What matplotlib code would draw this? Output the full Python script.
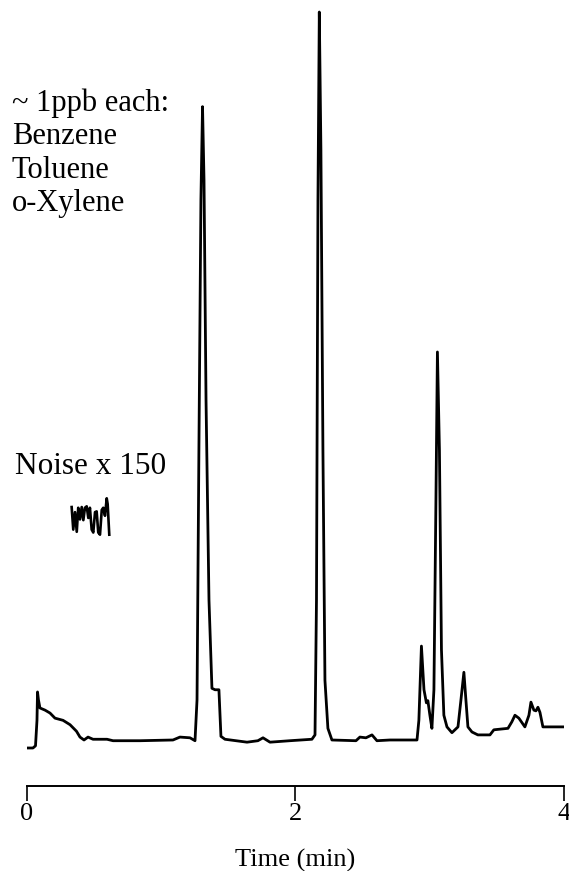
import matplotlib
matplotlib.use('Agg')
import matplotlib.pyplot as plt

plt.rcParams['font.family'] = ['Liberation Serif', 'DejaVu Serif']

# chromatogram trace: time (min) vs relative detector response (toluene = 100)
time_min = [0.000, 0.048, 0.067, 0.078, 0.082, 0.089, 0.100, 0.138, 0.175, 0.212,
            0.272, 0.324, 0.372, 0.398, 0.428, 0.458, 0.495, 0.599, 0.644, 0.845,
            1.090, 1.142, 1.217, 1.254, 1.269, 1.283, 1.298, 1.310, 1.321, 1.336,
            1.358, 1.380, 1.403, 1.432, 1.447, 1.477, 1.641, 1.722, 1.760, 1.812,
            1.960, 2.124, 2.147, 2.158, 2.169, 2.179, 2.191, 2.206, 2.221, 2.243,
            2.273, 2.452, 2.481, 2.526, 2.571, 2.608, 2.705, 2.906, 2.920, 2.939,
            2.958, 2.976, 2.987, 3.002, 3.017, 3.032, 3.047, 3.058, 3.073, 3.088,
            3.106, 3.129, 3.166, 3.211, 3.233, 3.255, 3.270, 3.285, 3.315, 3.359,
            3.449, 3.478, 3.583, 3.612, 3.635, 3.664, 3.709, 3.739, 3.754, 3.776,
            3.791, 3.806, 3.821, 3.843, 3.992]
response = [-1.1, -1.1, -0.8, 2.7, 6.6, 5.5, 4.4, 4.1, 3.7, 3.0,
            2.7, 2.1, 1.2, 0.4, 0.0, 0.4, 0.1, 0.1, -0.1, -0.1,
            0.0, 0.4, 0.3, -0.1, 5.5, 39.8, 74.2, 87.0, 76.9, 46.7,
            19.2, 7.1, 6.9, 6.9, 0.5, 0.1, -0.3, -0.1, 0.3, -0.3,
            -0.1, 0.1, 0.7, 19.2, 74.2, 100.0, 81.0, 39.8, 8.2, 1.6,
            0.0, -0.1, 0.4, 0.3, 0.7, -0.1, 0.0, 0.0, 2.7, 12.9,
            6.9, 5.1, 5.4, 3.4, 1.6, 6.9, 33.0, 53.3, 39.8, 12.4,
            3.4, 1.8, 1.0, 1.8, 5.5, 9.3, 5.5, 1.8, 1.1, 0.7,
            0.7, 1.4, 1.6, 2.5, 3.4, 3.0, 1.8, 3.4, 5.2, 4.1,
            4.0, 4.5, 3.8, 1.8, 1.8]

# baseline noise segment, amplified x150
noise_t = [0.336, 0.348, 0.361, 0.374, 0.385, 0.398, 0.411, 0.423, 0.435, 0.448,
           0.460, 0.472, 0.485, 0.497, 0.510, 0.522, 0.534, 0.547, 0.560, 0.571,
           0.584, 0.597, 0.604, 0.616]
noise_s = [32.0, 28.9, 31.3, 28.6, 31.9, 30.3, 32.0, 30.2, 31.9, 32.1,
           30.5, 31.9, 28.9, 28.5, 31.3, 31.4, 28.5, 28.2, 31.6, 31.9,
           30.8, 33.2, 32.4, 28.2]

xticks = [0, 2, 4]

W, H = 569, 871
fig = plt.figure(figsize=(W / 100, H / 100), dpi=100)
ax = fig.add_axes([26.5 / W, (H - 786) / H, 537.5 / W, 786 / H])

ax.plot(time_min, response, color='black', lw=2.0, solid_joinstyle='round')
ax.plot(noise_t, noise_s, color='black', lw=1.9, solid_joinstyle='round')

ax.set_xlim(0, 4)
ax.set_ylim(-6.32, 101.65)
for side in ['top', 'right', 'left']:
    ax.spines[side].set_visible(False)
ax.spines['bottom'].set_linewidth(1.4)
ax.set_yticks([])
ax.set_xticks(xticks)
ax.set_xticklabels([str(t) for t in xticks])
ax.tick_params(axis='x', direction='out', length=11, width=1.2, pad=1.5, labelsize=19)

fig.text(12 / W, 1 - 88 / H, '~ 1ppb each:\nBenzene\nToluene\no-Xylene',
         fontsize=22, va='top', ha='left', linespacing=1.21)
fig.text(15 / W, 1 - 466 / H, 'Noise x 150', fontsize=22.5, va='center', ha='left')
fig.text(295 / W, 1 - 860 / H, 'Time (min)', fontsize=19, va='center', ha='center')

fig.savefig('out.png', dpi=100)
